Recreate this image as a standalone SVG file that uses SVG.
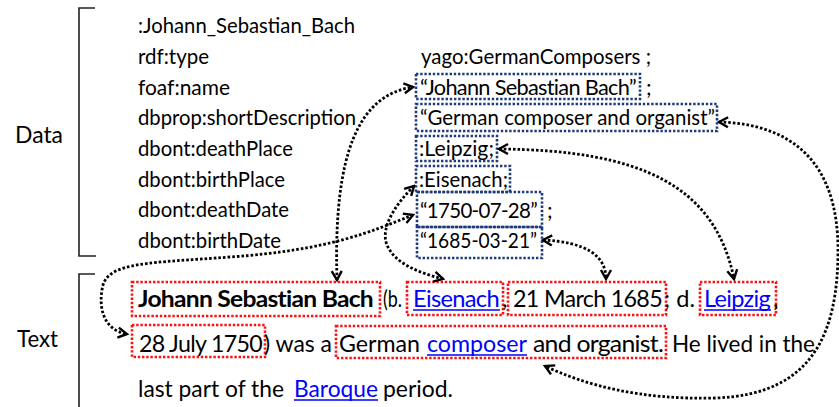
<svg xmlns="http://www.w3.org/2000/svg" width="839" height="407" viewBox="0 0 839 407">
<style>
text{font-family:Lato,"Open Sans","Liberation Sans",sans-serif;fill:#000}
.d{font-size:21.5px}
.p{font-size:23.5px}
.lbl{font-size:24px}
.b{font-weight:bold}
.lnk{fill:#0000FF}
.t{letter-spacing:-0.7px}
.ul{stroke:#0000FF;stroke-width:1.4}
.br{fill:none;stroke:#222;stroke-width:1.6}
.bb{fill:none;stroke:#1F3A78;stroke-width:2.6;stroke-dasharray:2.4 1.8}
.rb{fill:none;stroke:#FF1010;stroke-width:2.6;stroke-dasharray:2.4 1.8}
.ar{fill:none;stroke:#000;stroke-width:2.8;stroke-dasharray:2.6 2;marker-start:url(#ah);marker-end:url(#ah)}
</style>
<defs>
<marker id="ah" viewBox="0 0 14 14" markerWidth="14" markerHeight="14" refX="12" refY="7" markerUnits="userSpaceOnUse" orient="auto-start-reverse">
<path d="M3,2 L12,7 L3,12" fill="none" stroke="#000" stroke-width="2.4"/>
</marker>
</defs>
<rect width="839" height="407" fill="#fff"/>

<g id="data-bracket">
<path class="br" d="M95,8 H79 V256 H96"/>
<text class="lbl" x="15" y="143" textLength="48" lengthAdjust="spacingAndGlyphs">Data</text>
</g>
<g id="text-bracket">
<path class="br" d="M95,274 H79 V410"/>
<text class="lbl" x="17" y="347" textLength="41" lengthAdjust="spacingAndGlyphs">Text</text>
</g>

<g id="data-predicates">
<text class="d" x="138" y="33" textLength="217" lengthAdjust="spacingAndGlyphs">:Johann_Sebastian_Bach</text>
<text class="d" x="138" y="64" textLength="71" lengthAdjust="spacingAndGlyphs">rdf:type</text>
<text class="d" x="138" y="95" textLength="92" lengthAdjust="spacingAndGlyphs">foaf:name</text>
<text class="d" x="138" y="125" textLength="218" lengthAdjust="spacingAndGlyphs">dbprop:shortDescription</text>
<text class="d" x="138" y="156" textLength="155" lengthAdjust="spacingAndGlyphs">dbont:deathPlace</text>
<text class="d" x="138" y="187" textLength="147" lengthAdjust="spacingAndGlyphs">dbont:birthPlace</text>
<text class="d" x="138" y="217" textLength="151" lengthAdjust="spacingAndGlyphs">dbont:deathDate</text>
<text class="d" x="138" y="248" textLength="143" lengthAdjust="spacingAndGlyphs">dbont:birthDate</text>
<text class="d" x="421" y="64" textLength="230" lengthAdjust="spacingAndGlyphs">yago:GermanComposers ;</text>
</g>

<g id="d-name">
<rect class="bb" x="416" y="74" width="224" height="25"/>
<text class="d t" x="420" y="95" textLength="216" lengthAdjust="spacingAndGlyphs">“Johann Sebastian Bach”</text>
<text class="d" x="646" y="95">;</text>
</g>
<g id="d-desc">
<rect class="bb" x="416" y="104" width="301" height="27"/>
<text class="d" x="420" y="125" textLength="295" lengthAdjust="spacingAndGlyphs">“German composer and organist”</text>
</g>
<g id="d-leipzig">
<rect class="bb" x="416" y="136" width="81" height="25"/>
<text class="d" x="419" y="156" textLength="75" lengthAdjust="spacingAndGlyphs">:Leipzig;</text>
</g>
<g id="d-eisenach">
<rect class="bb" x="416" y="166" width="94" height="26"/>
<text class="d" x="419" y="187" textLength="89" lengthAdjust="spacingAndGlyphs">:Eisenach;</text>
</g>
<g id="d-death">
<rect class="bb" x="417" y="192" width="125" height="35"/>
<text class="d t" x="420" y="218" textLength="117" lengthAdjust="spacingAndGlyphs">“1750-07-28”</text>
<text class="d" x="547" y="218">;</text>
</g>
<g id="d-birth">
<rect class="bb" x="417" y="227" width="125" height="31"/>
<text class="d" x="420" y="248" textLength="117" lengthAdjust="spacingAndGlyphs">“1685-03-21”</text>
</g>

<g id="t-boxes">
<rect id="t-name" class="rb" x="132" y="282" width="248" height="34"/>
<rect id="t-eisenach" class="rb" x="407" y="282" width="96" height="33"/>
<rect id="t-birth" class="rb" x="508" y="282" width="158" height="33"/>
<rect id="t-leipzig" class="rb" x="700" y="282" width="76" height="33"/>
<rect id="t-death" class="rb" x="132" y="325" width="133" height="32"/>
<rect id="t-desc" class="rb" x="336" y="326" width="330" height="32"/>
</g>

<g id="paragraph">
<text class="p b t" x="138" y="307" textLength="235" lengthAdjust="spacingAndGlyphs">Johann Sebastian Bach</text>
<text class="p" x="383" y="307" textLength="19" lengthAdjust="spacingAndGlyphs">(b.</text>
<text class="p lnk t" x="413" y="307" textLength="86" lengthAdjust="spacingAndGlyphs">Eisenach</text>
<text class="p" x="502" y="307">,</text>
<text class="p t" x="513" y="307" textLength="149" lengthAdjust="spacingAndGlyphs">21 March 1685</text>
<text class="p" x="664" y="307" textLength="31" lengthAdjust="spacingAndGlyphs">; d.</text>
<text class="p lnk t" x="704" y="307" textLength="66" lengthAdjust="spacingAndGlyphs">Leipzig</text>
<text class="p" x="773" y="307">,</text>
<text class="p t" x="139" y="352" textLength="123" lengthAdjust="spacingAndGlyphs">28 July 1750</text>
<text class="p" x="264" y="352" textLength="68" lengthAdjust="spacingAndGlyphs">) was a</text>
<text class="p" x="339" y="352" textLength="81" lengthAdjust="spacingAndGlyphs">German</text>
<text class="p lnk" x="427" y="352" textLength="100" lengthAdjust="spacingAndGlyphs">composer</text>
<text class="p t" x="533" y="352" textLength="130" lengthAdjust="spacingAndGlyphs">and organist.</text>
<text class="p" x="672" y="352" textLength="143" lengthAdjust="spacingAndGlyphs">He lived in the</text>
<text class="p" x="138" y="397" textLength="146" lengthAdjust="spacingAndGlyphs">last part of the</text>
<text class="p lnk" x="294" y="397" textLength="84" lengthAdjust="spacingAndGlyphs">Baroque</text>
<text class="p" x="383" y="397" textLength="70" lengthAdjust="spacingAndGlyphs">period.</text>
<line class="ul" x1="413" y1="310" x2="500" y2="310"/>
<line class="ul" x1="704" y1="310" x2="771" y2="310"/>
<line class="ul" x1="427" y1="355" x2="527" y2="355"/>
<line class="ul" x1="294" y1="400" x2="378" y2="400"/>
</g>

<g id="connectors">
<path class="ar" d="M337,280 C333,150 360,95 413,87"/>
<path class="ar" d="M719,122 C790,124 838,160 838,250 C838,330 815,395 715,398 C640,400 585,385 545,366"/>
<path class="ar" d="M499,149 C640,150 715,185 734,279"/>
<path class="ar" d="M543,240 C585,242 606,255 606,279"/>
<path class="ar" d="M414,186 C395,205 380,228 387,245 C395,264 420,273 443,279"/>
<path class="ar" d="M413,215 C370,232 330,250 230,257 C150,263 110,262 103,285 C98,305 102,330 127,334"/>
</g>
</svg>
